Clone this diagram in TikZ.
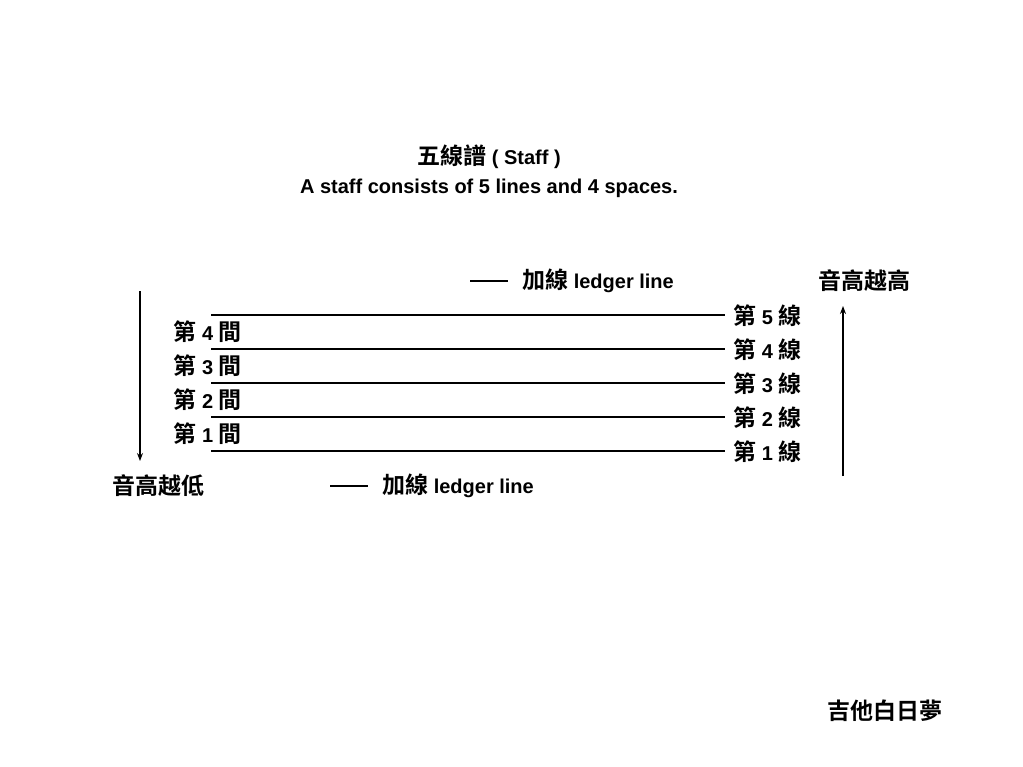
\documentclass[tikz,border=0pt]{standalone}
\usepackage{fontspec}
\setmainfont{Liberation Sans}
\newfontfamily\cjkf{Noto Sans CJK TC}[BoldFont={* Bold}]
\newcommand{\Cj}[1]{{\cjkf\fontsize{23}{26}\selectfont #1}}
\usetikzlibrary{arrows.meta}
\begin{document}
\begin{tikzpicture}[x=1pt,y=-1pt,
  lbl/.style={font=\bfseries\fontsize{20}{24}\selectfont,inner sep=0pt},
  stf/.style={line width=1.2pt},
  arr/.style={line width=1.2pt,-{Stealth[length=8pt,width=6pt]}}]
\useasboundingbox (0,0) rectangle (1023,766);
\node[lbl] (t1) at (489,157) {\Cj{五線譜} ( Staff )};
\node[lbl] (t2) at (489,188) {A staff consists of 5 lines and 4 spaces.};
\foreach \i/\y in {1/451,2/417,3/383,4/349,5/315}{
  \coordinate (a\i) at (211,\y); \coordinate (b\i) at (725,\y);
  \draw[stf] (a\i) -- (b\i);
  \node[lbl,anchor=west] (r\i) at (733,\y+1) {\Cj{第} \i\ \Cj{線}};
}
\foreach \i/\y in {1/434,2/400,3/366,4/332}{
  \node[lbl,anchor=east] (l\i) at (242,\y) {\Cj{第} \i\ \Cj{間}};
}
\coordinate (da) at (140,291); \coordinate (db) at (140,461);
\draw[arr] (da) -- (db);
\node[lbl] (low) at (158,486) {\Cj{音高越低}};
\coordinate (ua) at (843,476); \coordinate (ub) at (843,306);
\draw[arr] (ua) -- (ub);
\node[lbl] (high) at (864,281) {\Cj{音高越高}};
\coordinate (la1) at (470,281); \coordinate (lb1) at (508,281);
\draw[stf] (la1) -- (lb1);
\node[lbl,anchor=west] (led1) at (522,281) {\Cj{加線} ledger line};
\coordinate (la2) at (330,486); \coordinate (lb2) at (368,486);
\draw[stf] (la2) -- (lb2);
\node[lbl,anchor=west] (led2) at (382,486) {\Cj{加線} ledger line};
\node[lbl] (foot) at (885,711) {\Cj{吉他白日夢}};
\end{tikzpicture}
\end{document}
